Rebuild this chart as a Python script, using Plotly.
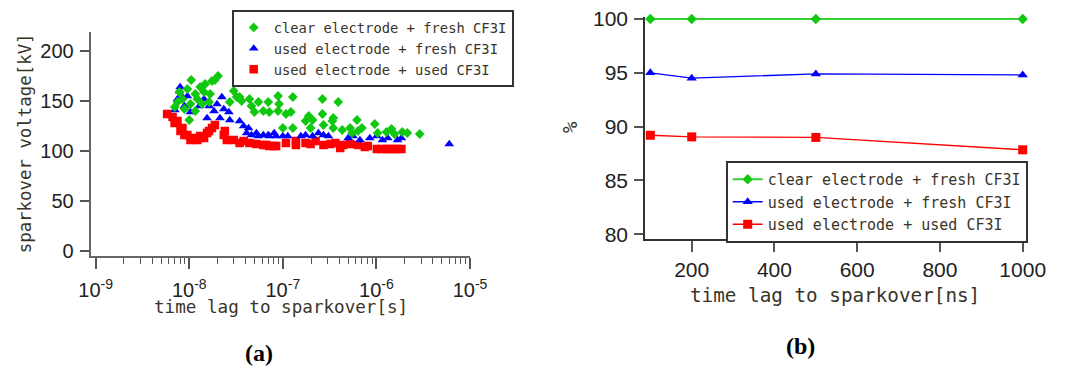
import plotly.graph_objects as go

W, H = 1068, 375

series_names = ["clear electrode + fresh CF3I",
                "used electrode + fresh CF3I",
                "used electrode + used CF3I"]

# ---------------- Panel (a): time lag [s] vs sparkover voltage [kV]
clear_fresh_t = [7.0e-9, 7.49e-9, 7.86e-9, 8.46e-9, 8.88e-9, 9.55e-9, 1.00e-8, 1.03e-8, 1.05e-8,
                 1.16e-8, 1.16e-8, 1.22e-8, 1.31e-8, 1.37e-8, 1.44e-8, 1.48e-8, 1.63e-8, 1.67e-8,
                 1.75e-8, 1.88e-8, 2.03e-8,
                 2.71e-8, 2.99e-8, 3.21e-8, 3.45e-8, 3.63e-8, 4.40e-8, 4.62e-8, 4.97e-8, 5.48e-8,
                 6.19e-8, 6.98e-8, 7.16e-8, 8.90e-8, 9.12e-8, 8.90e-8, 1.08e-7, 1.28e-7, 1.22e-7,
                 1.00e-7, 1.28e-7, 1.75e-7, 1.89e-7, 1.98e-7, 2.08e-7, 2.65e-7, 2.65e-7, 2.72e-7,
                 3.38e-7, 3.46e-7, 3.46e-7, 3.91e-7, 4.31e-7, 5.23e-7, 5.49e-7, 6.20e-7, 6.35e-7,
                 7.00e-7, 9.60e-7, 1.03e-6, 1.28e-6, 1.45e-6, 1.56e-6, 1.89e-6, 2.14e-6, 2.90e-6]
clear_fresh_v = [144, 149, 159, 152, 142, 162, 131, 147, 171,
                 157, 140, 152, 164, 147, 159, 167, 149, 157,
                 170, 171, 175,
                 149, 160, 154, 154, 150, 152, 145, 139, 149,
                 140, 149, 139, 155, 147, 140, 137, 154, 139,
                 123, 123, 130, 135, 123, 131, 152, 137, 126,
                 130, 133, 123, 149, 121, 123, 118, 131, 120,
                 123, 127, 118, 119, 122, 117, 119, 118, 117]

used_fresh_t = [7.03e-9, 7.49e-9, 7.86e-9, 8.0e-9, 8.46e-9, 8.88e-9, 9.55e-9, 1.03e-8, 1.28e-8,
                1.44e-8, 1.55e-8, 1.63e-8, 1.84e-8, 1.98e-8, 2.23e-8, 2.34e-8, 2.13e-8, 2.65e-8,
                2.71e-8, 3.45e-8, 3.81e-8, 4.10e-8, 4.30e-8, 4.62e-8, 5.22e-8, 5.48e-8, 6.19e-8,
                6.98e-8, 7.16e-8, 8.08e-8, 8.48e-8, 1.00e-7, 1.13e-7, 1.56e-7, 1.75e-7, 2.08e-7,
                2.40e-7, 2.72e-7, 3.07e-7, 4.99e-7, 5.62e-7, 6.67e-7, 8.50e-7, 1.01e-6, 1.16e-6,
                1.32e-6, 1.68e-6, 1.85e-6, 6.0e-6]
used_fresh_v = [141, 152, 160, 164, 154, 145, 155, 139, 145,
                152, 133, 145, 140, 147, 154, 142, 133, 139,
                131, 130, 125, 118, 123, 116, 118, 115, 116,
                116, 115, 118, 115, 115, 115, 115, 116, 115,
                118, 116, 115, 113, 115, 111, 113, 115, 111,
                113, 111, 113, 107]

used_used_t = [5.8e-9, 6.64e-9, 6.97e-9, 7.49e-9, 8.06e-9, 8.46e-9, 8.88e-9, 9.55e-9, 1.03e-8,
               1.13e-8, 1.22e-8, 1.31e-8, 1.44e-8, 1.55e-8, 1.63e-8, 1.75e-8, 1.88e-8,
               2.34e-8, 2.40e-8, 2.52e-8, 2.99e-8, 3.45e-8, 3.81e-8, 4.40e-8, 5.22e-8, 6.19e-8,
               6.65e-8, 7.16e-8, 8.08e-8, 8.48e-8, 1.08e-7, 1.38e-7, 1.38e-7, 1.75e-7, 1.98e-7,
               2.24e-7, 2.72e-7, 3.22e-7, 3.64e-7, 4.10e-7, 4.42e-7, 5.23e-7, 6.35e-7, 7.53e-7,
               8.09e-7, 1.01e-6, 1.14e-6, 1.28e-6, 1.38e-6, 1.56e-6, 1.68e-6, 1.85e-6]
used_used_v = [137, 134, 128, 130, 120, 123, 116, 116, 111,
               113, 111, 115, 113, 118, 120, 123, 126,
               116, 120, 111, 111, 108, 110, 108, 107, 106,
               106, 105, 105, 105, 108, 110, 106, 108, 107,
               110, 106, 107, 108, 103, 106, 107, 106, 104,
               105, 102, 102, 102, 102, 102, 102, 102]

# ---------------- Panel (b): time lag [ns] vs %
time_ns = [100, 200, 500, 1000]
pct_clear_fresh = [100, 100, 100, 100]
pct_used_fresh = [95.0, 94.5, 94.9, 94.8]
pct_used_used = [89.2, 89.05, 89.0, 87.85]

a_xticks = [1e-9, 1e-8, 1e-7, 1e-6, 1e-5]
a_xticktext = ["10<sup>-9</sup>", "10<sup>-8</sup>", "10<sup>-7</sup>",
               "10<sup>-6</sup>", "10<sup>-5</sup>"]
a_minor = [m * 10.0 ** e for e in range(-9, -5) for m in range(2, 10)]
a_yticks = [0, 50, 100, 150, 200]
b_xticks = [200, 400, 600, 800, 1000]
b_yticks = [80, 85, 90, 95, 100]

GREEN = "#11c811"
GREEN_LINE = "#33d033"
BLUE = "#0000ff"
RED = "#ff0000"
MONO = "DejaVu Sans Mono"
SANS = "Liberation Sans"
TXT = "#3a3428"


def px(x):
    return x / W


def py(y):
    return 1 - y / H


fig = go.Figure()

# panel (a) scatter, red drawn first, green on top
fig.add_trace(go.Scatter(x=used_used_t, y=used_used_v, mode="markers", name=series_names[2],
                         marker=dict(symbol="square", size=8.5, color=RED),
                         xaxis="x", yaxis="y", legend="legend", legendrank=3))
fig.add_trace(go.Scatter(x=used_fresh_t, y=used_fresh_v, mode="markers", name=series_names[1],
                         marker=dict(symbol="triangle-up", size=8.5, color=BLUE),
                         xaxis="x", yaxis="y", legend="legend", legendrank=2))
fig.add_trace(go.Scatter(x=clear_fresh_t, y=clear_fresh_v, mode="markers", name=series_names[0],
                         marker=dict(symbol="diamond", size=7.5, color=GREEN),
                         xaxis="x", yaxis="y", legend="legend", legendrank=1))

# panel (b) lines
fig.add_trace(go.Scatter(x=time_ns, y=pct_clear_fresh, mode="lines+markers", name=series_names[0],
                         line=dict(color=GREEN_LINE, width=2),
                         marker=dict(symbol="diamond", size=8, color=GREEN),
                         xaxis="x2", yaxis="y2", legend="legend2", cliponaxis=False))
fig.add_trace(go.Scatter(x=time_ns, y=pct_used_fresh, mode="lines+markers", name=series_names[1],
                         line=dict(color=BLUE, width=1.3),
                         marker=dict(symbol="triangle-up", size=9, color=BLUE),
                         xaxis="x2", yaxis="y2", legend="legend2", cliponaxis=False))
fig.add_trace(go.Scatter(x=time_ns, y=pct_used_used, mode="lines+markers", name=series_names[2],
                         line=dict(color=RED, width=1.3),
                         marker=dict(symbol="square", size=9, color=RED),
                         xaxis="x2", yaxis="y2", legend="legend2", cliponaxis=False))

axis_common = dict(showgrid=False, zeroline=False, showline=True, ticks="outside",
                   tickcolor="#555", tickwidth=1.5, automargin=False)

fig.update_layout(
    template="none",
    width=W, height=H, autosize=False,
    margin=dict(l=0, r=0, t=0, b=0, pad=0),
    paper_bgcolor="white", plot_bgcolor="white",
    font=dict(family=SANS, color="#222"),
    xaxis=dict(**axis_common, type="log", range=[-9.053, -5.0],
               domain=[px(90.7), px(470)], anchor="y",
               linecolor="#666", linewidth=2, ticklen=11,
               tickvals=a_xticks, ticktext=a_xticktext, ticklabelstandoff=4,
               tickfont=dict(size=20, family=SANS, color="#222"),
               minor=dict(tickvals=a_minor, ticks="outside", ticklen=6,
                          tickcolor="#555", tickwidth=1.2, showgrid=False)),
    yaxis=dict(**axis_common, range=[-5, 219.3], domain=[py(256), py(31.7)], anchor="x",
               linecolor="#666", linewidth=2, ticklen=9,
               tickvals=a_yticks, ticklabelstandoff=2,
               tickfont=dict(size=20, family=SANS, color="#222")),
    xaxis2=dict(**axis_common, range=[87.1, 1000], domain=[px(645), px(1022.7)], anchor="y2",
                linecolor="#333", linewidth=1.5, ticklen=11,
                tickvals=b_xticks, ticklabelstandoff=0,
                tickfont=dict(size=21, family=SANS, color="#222")),
    yaxis2=dict(**axis_common, range=[79.535, 100.2], domain=[py(239.3), py(16.85)], anchor="x2",
                linecolor="#333", linewidth=1.5, ticklen=9,
                tickvals=b_yticks, ticklabelstandoff=2,
                tickfont=dict(size=21, family=SANS, color="#222")),
    legend=dict(x=px(231.7), y=py(10), xanchor="left", yanchor="top",
                bgcolor="white", bordercolor="#333", borderwidth=2,
                font=dict(family=MONO, size=13.8, color=TXT), traceorder="normal"),
    legend2=dict(x=px(725.7), y=py(161), xanchor="left", yanchor="top",
                 bgcolor="white", bordercolor="#333", borderwidth=2,
                 font=dict(family=MONO, size=15, color=TXT), traceorder="normal"),
    annotations=[
        dict(text="time lag to sparkover[s]", x=px(280.8), y=py(307), xref="paper", yref="paper",
             showarrow=False, xanchor="center", yanchor="middle",
             font=dict(family=MONO, size=17.6, color=TXT)),
        dict(text="sparkover voltage[kV]", x=px(25), y=py(143.3), xref="paper", yref="paper",
             showarrow=False, xanchor="center", yanchor="middle", textangle=-90,
             font=dict(family=MONO, size=17.4, color=TXT)),
        dict(text="time lag to sparkover[ns]", x=px(835), y=py(295), xref="paper", yref="paper",
             showarrow=False, xanchor="center", yanchor="middle",
             font=dict(family=MONO, size=19.3, color=TXT)),
        dict(text="%", x=px(570), y=py(127), xref="paper", yref="paper",
             showarrow=False, xanchor="center", yanchor="middle", textangle=-90,
             font=dict(family=MONO, size=19, color=TXT)),
        dict(text="<b>(a)</b>", x=px(259), y=py(353), xref="paper", yref="paper",
             showarrow=False, xanchor="center", yanchor="middle",
             font=dict(family="Liberation Serif", size=24, color="#000")),
        dict(text="<b>(b)</b>", x=px(800), y=py(346), xref="paper", yref="paper",
             showarrow=False, xanchor="center", yanchor="middle",
             font=dict(family="Liberation Serif", size=24, color="#000")),
    ],
)

fig.write_html("out.html",
               config={"displayModeBar": False},
               post_script="document.body.style.margin='0';document.body.style.overflow='hidden';")
